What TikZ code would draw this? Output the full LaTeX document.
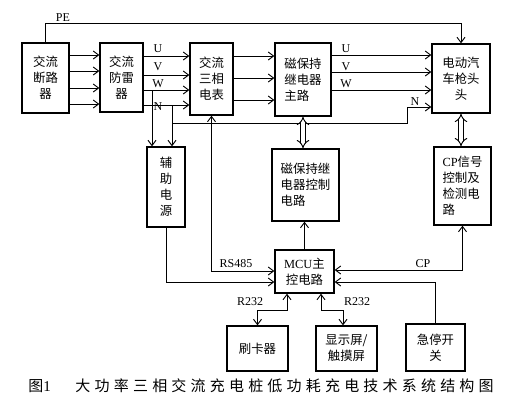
\documentclass[tikz,border=0pt]{standalone}
\usepackage{fontspec}
\setmainfont{Liberation Serif}
\newfontfamily\cjk{Noto Sans CJK SC}
\newfontfamily\capfont{Noto Sans CJK SC}[LetterSpace=28]
\usetikzlibrary{
    calc,
    arrows.meta
}
\tikzset{
  every path/.style={
    black,
    line width=0.7pt
  },
  box/.style={
    draw,
    line width=1pt,
    inner sep=0pt,
    align=center,
    font=\cjk\fontsize{9.3}{12}\selectfont
  },
  lbl/.style={
    inner sep=0pt,
    font=\fontsize{9}{10}\selectfont
  },
  dbl/.style={
    double,
    double distance=2.6pt,
    line width=0.7pt,
    {Implies}-{Implies}
  }
}

\begin{document}
\begin{tikzpicture}[x=0.75pt,y=-0.75pt,>={Straight Barb[length=4pt,width=6pt]}]
    \useasboundingbox (0,0) rectangle (528,405);

    % 上排
    \node[box, minimum width=35.25pt, minimum height=52.5pt] (brk) at (45.5,78) {交流\\断路\\器};
    \node[box, minimum width=32.25pt, minimum height=51.75pt] (spd) at (121.5,77.5) {交流\\防雷\\器};
    \node[box, minimum width=32.25pt, minimum height=54pt] (meter) at (211.5,79) {交流\\三相\\电表};
    \node[box, minimum width=42pt, minimum height=54.75pt, align=left] (relay) at (303,79.5) {磁保持\\继电器\\主路};
    \node[box, minimum width=43.5pt, minimum height=51.75pt] (car) at (461,78.5) {电动汽\\车枪头\\头};

    % 中排
    \node[box, minimum width=28.5pt, minimum height=60pt] (aux) at (166,187) {辅\\助\\电\\源};
    \node[box, minimum width=50.25pt, minimum height=54pt, align=left] (ctrl) at (305.5,185) {磁保持继\\电器控制\\电路};
    \node[box, minimum width=42.75pt, minimum height=58.5pt, align=left] (cp) at (462.5,186) {{\rmfamily CP}信号\\控制及\\检测电\\路};
    \node[box, minimum width=44.25pt, minimum height=32.25pt] (mcu) at (304.5,271.5) {{\rmfamily MCU}主\\控电路};

    % 下排
    \node[box, minimum width=45.75pt, minimum height=33.75pt] (card) at (257.5,348.5) {刷卡器};
    \node[box, minimum width=45.75pt, minimum height=33.75pt] (disp) at (346.5,348.5) {显示屏/\\触摸屏};
    \node[box, minimum width=44.25pt, minimum height=35.25pt] (estop) at (435.5,347.5) {急停开\\关};

    % PE
    \draw[->] (brk.north) |- ($(car.north)+(0,-20)$) -- (car.north);
    \node[lbl] (pe) at (63,18) {PE};

    % 断路器 -> 防雷器
    \foreach \y in {55,71,88,104}
        \draw[->] (brk.east |- 0,\y) -- (spd.west |- 0,\y);

    % 防雷器 -> 电表
    \foreach \y in {56,75,90,105}
        \draw[->] (spd.east |- 0,\y) -- (meter.west |- 0,\y);
    \node[lbl] (u1) at (158,49) {U};
    \node[lbl] (v1) at (158,67) {V};
    \node[lbl] (w1) at (158,84) {W};
    \node[lbl] (n1) at (158,107) {N};

    % 电表 -> 继电器
    \foreach \y in {56,78,100}
        \draw[->] (meter.east |- 0,\y) -- (relay.west |- 0,\y);

    % 继电器 -> 枪头
    \foreach \y in {55,72,90}
        \draw[->] (relay.east |- 0,\y) -- (car.west |- 0,\y);
    \node[lbl] (u2) at (346,49) {U};
    \node[lbl] (v2) at (346,67) {V};
    \node[lbl] (w2) at (346,84) {W};

    % 辅助电源取电, N 线
    \coordinate (wtap) at (152,90);
    \coordinate (ntap) at (172,105);
    \draw[->] (wtap) -- (wtap |- aux.north);
    \draw[->] (ntap) -- (ntap |- aux.north);
    \draw[->] (ntap) |- (407,123) |- (car.west |- 0,107);
    \node[lbl] (n2) at (415,102) {N};

    % 双向箭头
    \draw[dbl] (relay.south) -- (relay.south |- ctrl.north);
    \draw[dbl] (car.south) -- (car.south |- cp.north);

    % MCU 连线
    \draw[->] (mcu.north) -- (mcu.north |- ctrl.south);
    \draw[<->] (meter.south) |- (mcu.west |- 0,271);
    \node[lbl] (rs) at (236,264) {RS485};
    \draw[->] (aux.south) |- (mcu.west |- 0,282);
    \draw[<->] (cp.south) |- (mcu.east |- 0,270);
    \node[lbl] (cpl) at (423,264) {CP};
    \draw[->] (estop.north) |- (mcu.east |- 0,282);
    \draw[<->] (card.north) -- (card.north |- 0,310) -| (mcu.south -| 287,0);
    \node[lbl] (r1) at (250,302) {R232};
    \draw[<->] (mcu.south -| 321,0) |- (343,310) -- (disp.north -| 343,0);
    \node[lbl] (r2) at (357,302) {R232};

    % 图题
    \node[anchor=west, inner sep=0pt, font=\capfont\fontsize{11.25}{12}\selectfont] (cap1) at (28,386) {图{\rmfamily 1}};
    \node[anchor=west, inner sep=0pt, font=\capfont\fontsize{11.25}{12}\selectfont] (cap2) at (75,386) {大功率三相交流充电桩低功耗充电技术系统结构图};

\end{tikzpicture}
\end{document}
